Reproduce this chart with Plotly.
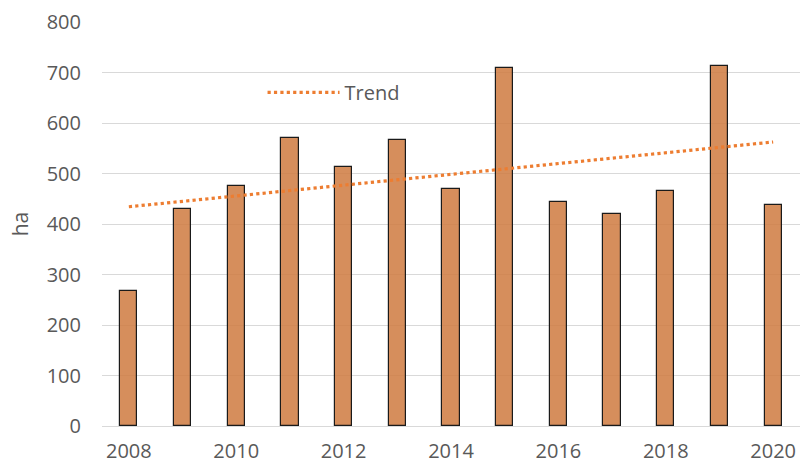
import numpy as np
import plotly.graph_objects as go

years = [2008, 2009, 2010, 2011, 2012, 2013, 2014, 2015, 2016, 2017, 2018, 2019, 2020]
area_ha = [268, 430, 475, 570, 513, 566, 469, 709, 443, 419, 465, 713, 438]
tick_years = [2008, 2010, 2012, 2014, 2016, 2018, 2020]

slope, intercept = np.polyfit(years, area_ha, 1)
trend = [slope * y + intercept for y in years]

font = "Open Sans, Liberation Sans, sans-serif"
grey = "#595959"

fig = go.Figure()
fig.add_trace(go.Bar(
    x=years, y=area_ha, width=0.32, showlegend=False,
    marker=dict(color="rgba(207,122,64,0.85)", line=dict(color="#1a1a1a", width=1.2)),
))
fig.add_trace(go.Scatter(
    x=years, y=trend, mode="lines", name="Trend",
    line=dict(color="#ED7D31", width=3.2, dash="dot"),
))

fig.update_layout(
    width=806, height=465,
    margin=dict(l=102, r=6, t=22, b=39),
    paper_bgcolor="white", plot_bgcolor="white",
    font=dict(family=font, size=20, color=grey),
    bargap=0,
    legend=dict(x=0.23, y=0.826, xanchor="left", yanchor="middle",
                bgcolor="rgba(0,0,0,0)", font=dict(size=20, color=grey),
                itemwidth=72),
    xaxis=dict(range=[2007.5, 2020.5], tickmode="array", tickvals=tick_years,
               ticks="", showgrid=False, zeroline=False, showline=False,
               ticklabelstandoff=11, automargin=False,
               tickfont=dict(size=20, color=grey)),
    yaxis=dict(range=[0, 800], dtick=100, showgrid=True, gridcolor="#D9D9D9",
               gridwidth=1.3, zeroline=True, zerolinecolor="#D9D9D9", zerolinewidth=1.3,
               ticks="", ticklabelstandoff=20, automargin=False,
               title=dict(text="ha", font=dict(size=21, color=grey), standoff=12),
               tickfont=dict(size=20, color=grey)),
)

fig.write_html("out.html", config={"displayModeBar": False},
               post_script="document.body.style.margin='0';document.body.style.overflow='hidden';")
